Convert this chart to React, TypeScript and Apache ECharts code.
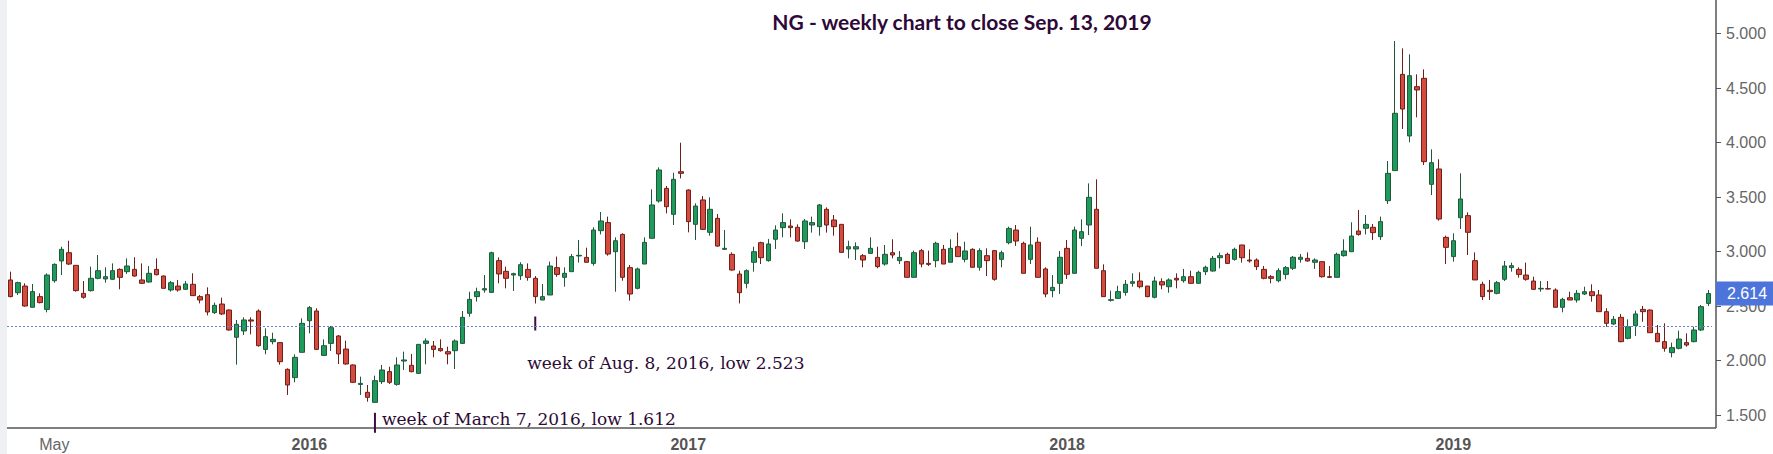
import React, { useEffect, useRef } from "react";
import * as echarts from "echarts";

// weekly candles: [open, close, low, high]
const y2015: number[][] = [
  [2.739, 2.586, 2.58, 2.815], [2.622, 2.714, 2.601, 2.723], [2.683, 2.5, 2.494, 2.708], [2.488, 2.632, 2.488, 2.702],
  [2.586, 2.531, 2.524, 2.616], [2.469, 2.784, 2.442, 2.8], [2.732, 2.882, 2.714, 2.891], [2.913, 3.02, 2.784, 3.044],
  [2.989, 2.885, 2.876, 3.099], [2.873, 2.641, 2.632, 2.873], [2.616, 2.58, 2.567, 2.729], [2.641, 2.754, 2.632, 2.861],
  [2.754, 2.824, 2.745, 2.968], [2.748, 2.769, 2.714, 2.855], [2.745, 2.824, 2.739, 2.891], [2.836, 2.763, 2.653, 2.846],
  [2.815, 2.867, 2.794, 2.937], [2.836, 2.775, 2.769, 2.947], [2.739, 2.708, 2.702, 2.891], [2.72, 2.8, 2.714, 2.867],
  [2.836, 2.787, 2.781, 2.937], [2.775, 2.662, 2.662, 2.781], [2.647, 2.714, 2.632, 2.729], [2.683, 2.647, 2.632, 2.739],
  [2.653, 2.702, 2.647, 2.729], [2.699, 2.595, 2.592, 2.8], [2.586, 2.555, 2.524, 2.601], [2.604, 2.445, 2.414, 2.671],
  [2.439, 2.506, 2.427, 2.531], [2.518, 2.427, 2.417, 2.576], [2.463, 2.28, 2.274, 2.469], [2.213, 2.332, 1.962, 2.372],
  [2.271, 2.372, 2.234, 2.396], [2.372, 2.362, 2.24, 2.396], [2.454, 2.136, 2.127, 2.469], [2.102, 2.219, 2.057, 2.295],
  [2.173, 2.194, 2.148, 2.255], [2.164, 1.989, 1.962, 2.164], [1.919, 1.775, 1.684, 1.928], [1.843, 2.029, 1.8, 2.057],
  [2.075, 2.341, 2.075, 2.387],
];
const y2016: number[][] = [
  [2.365, 2.485, 2.249, 2.5], [2.454, 2.102, 2.096, 2.479], [2.047, 2.136, 2.041, 2.194], [2.157, 2.301, 2.087, 2.317],
  [2.225, 2.06, 1.968, 2.234], [2.105, 1.968, 1.962, 2.182], [1.959, 1.8, 1.794, 1.965], [1.78, 1.79, 1.684, 1.852],
  [1.708, 1.662, 1.622, 1.775], [1.616, 1.815, 1.612, 1.861], [1.806, 1.913, 1.784, 1.959], [1.898, 1.8, 1.784, 1.943],
  [1.781, 1.959, 1.769, 2.029], [1.995, 2.005, 1.913, 2.081], [1.956, 1.898, 1.891, 2.06], [1.882, 2.148, 1.876, 2.148],
  [2.157, 2.179, 1.965, 2.203], [2.133, 2.102, 2.029, 2.179], [2.109, 2.09, 2.081, 2.194], [2.081, 2.06, 1.965, 2.127],
  [2.09, 2.179, 1.922, 2.194], [2.157, 2.396, 2.151, 2.454], [2.433, 2.561, 2.402, 2.631], [2.586, 2.631, 2.54, 2.668],
  [2.647, 2.659, 2.622, 2.784], [2.625, 2.989, 2.622, 2.998], [2.916, 2.794, 2.708, 2.946], [2.818, 2.754, 2.662, 2.861],
  [2.784, 2.797, 2.638, 2.806], [2.778, 2.879, 2.739, 2.901], [2.836, 2.763, 2.732, 2.891], [2.754, 2.586, 2.523, 2.775],
  [2.555, 2.586, 2.555, 2.702], [2.601, 2.867, 2.601, 2.907], [2.852, 2.79, 2.769, 2.953], [2.763, 2.8, 2.677, 2.855],
  [2.815, 2.953, 2.815, 2.977], [2.959, 2.965, 2.898, 3.106], [2.946, 2.901, 2.901, 3.035], [2.891, 3.197, 2.87, 3.222],
  [3.191, 3.28, 3.157, 3.362], [3.265, 2.977, 2.962, 3.32], [2.998, 3.099, 2.631, 3.13], [3.157, 2.763, 2.732, 3.167],
  [2.852, 2.61, 2.549, 2.876], [2.662, 2.84, 2.653, 2.852], [2.885, 3.084, 2.885, 3.13], [3.121, 3.427, 3.121, 3.57],
  [3.463, 3.748, 3.448, 3.772], [3.579, 3.411, 3.35, 3.601], [3.341, 3.662, 3.243, 3.723], [3.732, 3.717, 3.671, 3.998],
];
const y2017: number[][] = [
  [3.564, 3.274, 3.176, 3.57], [3.249, 3.417, 3.106, 3.442], [3.473, 3.203, 3.197, 3.509], [3.176, 3.387, 3.145, 3.497],
  [3.304, 3.05, 3.044, 3.344], [3.02, 3.029, 3.014, 3.197], [2.974, 2.83, 2.824, 2.992], [2.793, 2.622, 2.524, 2.824],
  [2.708, 2.824, 2.662, 2.836], [2.901, 2.998, 2.815, 3.044], [3.081, 2.943, 2.885, 3.09], [2.916, 3.069, 2.907, 3.115],
  [3.112, 3.197, 3.023, 3.24], [3.219, 3.265, 3.13, 3.35], [3.234, 3.219, 3.13, 3.295], [3.222, 3.096, 3.09, 3.249],
  [3.09, 3.28, 3.023, 3.298], [3.243, 3.265, 3.173, 3.32], [3.228, 3.427, 3.145, 3.436], [3.387, 3.243, 3.173, 3.405],
  [3.289, 3.228, 3.145, 3.335], [3.249, 2.992, 2.992, 3.249], [3.023, 3.044, 2.937, 3.099], [3.023, 3.044, 2.922, 3.084],
  [2.962, 2.922, 2.855, 2.977], [2.983, 3.029, 2.977, 3.13], [2.946, 2.861, 2.846, 3.044], [2.885, 2.974, 2.87, 3.06],
  [2.989, 2.968, 2.937, 3.112], [2.916, 2.946, 2.885, 3.004], [2.907, 2.763, 2.763, 2.913], [2.763, 2.989, 2.763, 3.008],
  [3.008, 2.885, 2.855, 3.023], [2.891, 2.882, 2.867, 3.008], [2.916, 3.075, 2.855, 3.09], [3.02, 2.885, 2.885, 3.06],
  [2.901, 3.029, 2.901, 3.112], [3.044, 2.953, 2.953, 3.173], [2.928, 3.005, 2.901, 3.09], [3.02, 2.855, 2.855, 3.029],
  [2.855, 3.008, 2.824, 3.029], [2.962, 2.916, 2.775, 3.029], [3.008, 2.745, 2.732, 3.014], [2.928, 2.989, 2.855, 3.008],
  [3.081, 3.212, 3.066, 3.228], [3.197, 3.096, 3.051, 3.243], [3.075, 2.8, 2.8, 3.09], [2.928, 3.06, 2.885, 3.228],
  [3.085, 2.763, 2.763, 3.13], [2.84, 2.61, 2.58, 2.855], [2.641, 2.671, 2.58, 2.784], [2.708, 2.947, 2.61, 3.005],
];
const y2018: number[][] = [
  [3.029, 2.791, 2.748, 3.106], [2.8, 3.197, 2.794, 3.228], [3.121, 3.182, 3.05, 3.295], [3.243, 3.497, 3.151, 3.625],
  [3.387, 2.846, 2.846, 3.662], [2.824, 2.586, 2.586, 2.882], [2.552, 2.558, 2.54, 2.641], [2.57, 2.632, 2.564, 2.686],
  [2.625, 2.699, 2.595, 2.739], [2.708, 2.723, 2.677, 2.8], [2.729, 2.677, 2.662, 2.809], [2.683, 2.586, 2.58, 2.683],
  [2.58, 2.729, 2.57, 2.769], [2.723, 2.693, 2.653, 2.754], [2.677, 2.739, 2.622, 2.754], [2.754, 2.739, 2.662, 2.8],
  [2.732, 2.769, 2.714, 2.84], [2.769, 2.708, 2.702, 2.824], [2.708, 2.809, 2.708, 2.824], [2.815, 2.855, 2.784, 2.87],
  [2.821, 2.937, 2.815, 2.959], [2.943, 2.962, 2.846, 2.989], [2.974, 2.891, 2.885, 2.989], [2.928, 3.02, 2.916, 3.035],
  [3.06, 2.943, 2.898, 3.06], [2.922, 2.913, 2.898, 3.02], [2.922, 2.861, 2.83, 2.937], [2.836, 2.754, 2.745, 2.867],
  [2.769, 2.754, 2.708, 2.784], [2.732, 2.824, 2.717, 2.846], [2.79, 2.852, 2.745, 2.867], [2.846, 2.947, 2.83, 2.959],
  [2.928, 2.947, 2.898, 2.977], [2.937, 2.913, 2.907, 2.992], [2.901, 2.922, 2.84, 2.937], [2.907, 2.769, 2.76, 2.907],
  [2.769, 2.763, 2.76, 2.867], [2.763, 2.974, 2.763, 2.989], [2.962, 3.005, 2.953, 3.112], [2.998, 3.142, 2.998, 3.268],
  [3.188, 3.157, 3.145, 3.381], [3.213, 3.249, 3.157, 3.335], [3.222, 3.173, 3.106, 3.252], [3.136, 3.274, 3.106, 3.32],
  [3.466, 3.717, 3.436, 3.83], [3.742, 4.268, 3.742, 4.931], [4.625, 4.307, 4.124, 4.864], [4.06, 4.613, 4.002, 4.809],
  [4.512, 4.482, 4.231, 4.625], [4.589, 3.824, 3.794, 4.671], [3.616, 3.815, 3.518, 3.937], [3.757, 3.298, 3.283, 3.846],
];
const y2019: number[][] = [
  [3.13, 3.038, 2.885, 3.145], [2.953, 3.099, 2.907, 3.167], [3.31, 3.482, 3.206, 3.717], [3.329, 3.176, 2.968, 3.359],
  [2.916, 2.739, 2.739, 2.992], [2.699, 2.586, 2.555, 2.723], [2.644, 2.632, 2.555, 2.739], [2.616, 2.714, 2.607, 2.729],
  [2.745, 2.867, 2.729, 2.913], [2.852, 2.87, 2.815, 2.898], [2.836, 2.79, 2.76, 2.855], [2.784, 2.745, 2.732, 2.898],
  [2.729, 2.653, 2.647, 2.769], [2.656, 2.662, 2.631, 2.729], [2.659, 2.656, 2.653, 2.729], [2.647, 2.488, 2.488, 2.662],
  [2.488, 2.561, 2.442, 2.576], [2.576, 2.555, 2.555, 2.631], [2.555, 2.616, 2.531, 2.647], [2.61, 2.631, 2.601, 2.677],
  [2.631, 2.595, 2.54, 2.699], [2.601, 2.448, 2.448, 2.647], [2.448, 2.341, 2.31, 2.479], [2.335, 2.378, 2.326, 2.408],
  [2.396, 2.173, 2.167, 2.427], [2.203, 2.31, 2.194, 2.378], [2.32, 2.427, 2.225, 2.457], [2.469, 2.448, 2.356, 2.5],
  [2.463, 2.255, 2.255, 2.469], [2.249, 2.173, 2.167, 2.326], [2.173, 2.112, 2.081, 2.341], [2.072, 2.118, 2.029, 2.164],
  [2.112, 2.197, 2.102, 2.274], [2.164, 2.142, 2.127, 2.249], [2.173, 2.28, 2.167, 2.31], [2.28, 2.494, 2.271, 2.509],
  [2.524, 2.614, 2.5, 2.647],
];

const candles = [...y2015, ...y2016, ...y2017, ...y2018, ...y2019];
const FIRST_WEEK = Date.UTC(2015, 2, 23);
const weeks: string[] = candles.map((_, i) => new Date(FIRST_WEEK + i * 7 * 86400000).toISOString().slice(0, 10));

const TITLE = "NG - weekly chart to close Sep. 13, 2019";
const lastClose = 2.614;
const refLevel = 2.313;
const notes = [
  { week: "2016-03-07", low: 1.612, text: "week of March 7, 2016, low 1.612" },
  { week: "2016-08-08", low: 2.523, text: "week of Aug. 8, 2016, low 2.523" },
];
const Y_MIN = 1.5;
const Y_MAX = 5.0;
const Y_STEP = 0.5;

const month = (d: string) => +d.slice(5, 7);
const isTick = (i: number) =>
  i > 0 && month(weeks[i]) !== month(weeks[i - 1]) && [1, 5, 9].includes(month(weeks[i]));

const SANS = "'Liberation Sans', Arial, sans-serif";

export default function App() {
  const ref = useRef<HTMLDivElement>(null);
  useEffect(() => {
    document.body.style.margin = "0";
    const chart = echarts.init(ref.current!, undefined, { renderer: "svg" });
    chart.setOption({
      animation: false,
      backgroundColor: "#ffffff",
      grid: { left: 7, right: 61, top: 33.5, bottom: 39 },
      xAxis: {
        type: "category",
        data: weeks,
        boundaryGap: true,
        offset: 13,
        axisLine: { show: false },
        axisTick: {
          alignWithLabel: true,
          interval: (i: number) => isTick(i),
          length: 4,
          lineStyle: { color: "#555" },
        },
        axisLabel: {
          interval: (i: number) => isTick(i),
          margin: 8,
          fontSize: 16,
          fontFamily: SANS,
          color: "#666",
          formatter: (v: string) => {
            if (month(v) === 1) return "{b|" + v.slice(0, 4) + "}";
            if (v === "2015-05-04") return "May";
            return "";
          },
          rich: { b: { fontWeight: "bold", fontSize: 16, fontFamily: SANS, color: "#555" } },
        },
        splitLine: { show: false },
      },
      yAxis: {
        type: "value",
        position: "right",
        min: Y_MIN,
        max: Y_MAX,
        interval: Y_STEP,
        offset: 4,
        axisLine: { show: false },
        axisTick: { show: true, length: 5, lineStyle: { color: "#555" } },
        axisLabel: {
          margin: 10,
          fontSize: 16,
          fontFamily: SANS,
          color: "#666",
          formatter: (v: number) => v.toFixed(3),
        },
        splitLine: { show: false },
      },
      series: [
        {
          type: "candlestick",
          data: candles,
          barWidth: 5,
          itemStyle: {
            color: "#1d9b5b",
            color0: "#d54b40",
            borderColor: "#24563b",
            borderColor0: "#6e1f17",
            borderWidth: 1,
          },
          markLine: {
            silent: true,
            symbol: ["none", "none"],
            data: [
              {
                yAxis: refLevel,
                lineStyle: { color: "#5f82d8", type: [2, 2], width: 1 },
                label: { show: false },
              },
            ],
          },
        },
      ],
    });

    const last = chart.convertToPixel({ xAxisIndex: 0, yAxisIndex: 0 }, [weeks[weeks.length - 1], lastClose]) as number[];
    const graphics: any[] = [
      { type: "rect", shape: { x: 0, y: 0, width: 7, height: 454 }, style: { fill: "#eef0f4" }, silent: true },
      { type: "line", shape: { x1: 7, y1: 428, x2: 1716, y2: 428 }, style: { stroke: "#555", lineWidth: 1.5 }, silent: true },
      { type: "line", shape: { x1: 1716, y1: 0, x2: 1716, y2: 428 }, style: { stroke: "#555", lineWidth: 1.5 }, silent: true },
      {
        type: "text",
        x: 962,
        y: 21,
        style: {
          text: TITLE,
          fill: "#2e0839",
          font: "bold 21px Lato, 'Open Sans', sans-serif",
          textAlign: "center",
          verticalAlign: "middle",
        },
        silent: true,
      },
      {
        type: "rect",
        z: 100,
        shape: { x: 1716, y: last[1] - 12, width: 57, height: 24 },
        style: { fill: "#4d74db" },
        silent: true,
      },
      {
        type: "text",
        z: 101,
        x: 1727,
        y: last[1],
        style: {
          text: lastClose.toFixed(3),
          fill: "#ffffff",
          font: "16px 'Liberation Sans', Arial, sans-serif",
          textAlign: "left",
          verticalAlign: "middle",
        },
        silent: true,
      },
    ];
    notes.forEach((n, k) => {
      const p = chart.convertToPixel({ xAxisIndex: 0, yAxisIndex: 0 }, [n.week, n.low]) as number[];
      const x = p[0];
      const y = p[1];
      const top = k === 0 ? y + 10 : y + 13;
      const bottom = k === 0 ? y + 30 : y + 27;
      graphics.push({
        type: "line",
        shape: { x1: x, y1: top, x2: x, y2: bottom },
        style: { stroke: "#3a1042", lineWidth: 2 },
        silent: true,
      });
      graphics.push({
        type: "text",
        x: k === 0 ? x + 7 : x - 8,
        y: k === 0 ? y + 16 : y + 60,
        style: {
          text: n.text,
          fill: "#2d0a36",
          font: "17px 'DejaVu Serif', serif",
          textAlign: "left",
          verticalAlign: "middle",
        },
        silent: true,
      });
    });
    chart.setOption({ graphic: graphics });
    return () => chart.dispose();
  }, []);
  return <div ref={ref} style={{ width: 1773, height: 454 }} />;
}
